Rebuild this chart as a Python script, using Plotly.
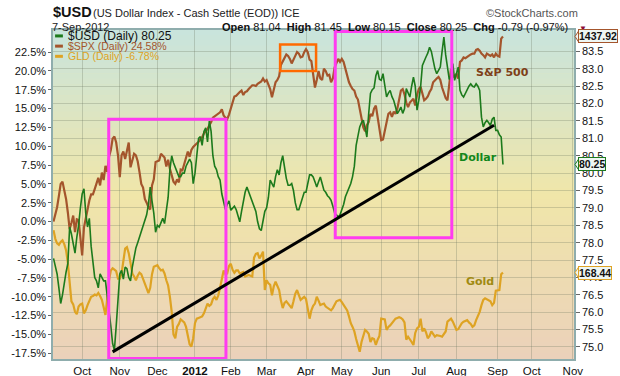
import plotly.graph_objects as go
import pandas as pd

# ---------------- data ----------------
HOLIDAYS = ["2011-11-24", "2011-12-26", "2012-01-02", "2012-01-16", "2012-02-20",
            "2012-04-06", "2012-05-28", "2012-07-04", "2012-09-03"]
trade_dates = pd.bdate_range("2011-09-09", "2012-09-07", freq="C", holidays=HOLIDAYS)

# $USD daily close (right axis, price)
usd = [
    77.55, 77.3, 77.1, 76.7, 76.25, 76.5, 76.9, 77.15, 77.4, 78.45, 78.25, 78.0, 77.7, 78.15, 78.5, 79.0,
    79.4, 79.55, 78.85, 78.45, 78.7, 77.9, 77.4, 77.0, 76.9, 76.7, 77.1, 77.0, 76.9, 76.9, 76.5, 76.0, 75.6, 75.1, 74.91, 75.6, 76.5,
    77.1, 77.2, 76.95, 77.3, 77.25, 77.0, 76.9, 77.3, 77.6, 77.85, 78.0, 78.15, 78.3, 78.45, 78.6, 78.8, 79.1, 79.6, 79.2, 78.85, 78.3,
    78.5, 78.45, 78.6, 78.7, 78.55, 78.9, 79.3, 80.1, 80.5, 80.3, 80.15, 80.0, 79.9, 79.9, 80.0, 80.0, 80.2, 80.3, 80.4, 80.3, 79.7,
    80.0, 80.6, 81.0, 81.05, 80.8, 81.2, 81.3, 80.9, 81.5, 81.2, 80.5, 80.2, 80.1, 79.9, 79.8, 79.4, 79.2, 78.95, 79.1, 79.2,
    78.93, 79.0, 79.05, 78.95, 78.8, 78.6, 78.9, 79.2, 79.45, 79.6, 79.45, 79.3, 79.2, 79.05, 78.9, 78.6, 78.4, 78.35, 78.6, 78.9,
    79.0, 79.3, 79.8, 79.7, 79.6, 79.9, 80.1, 79.95, 80.3, 80.5, 80.1, 79.85, 79.65, 79.65, 79.7, 79.5, 79.15, 78.95, 78.95, 79.1, 79.3, 79.45,
    79.45, 79.7, 79.95, 79.95, 79.89, 79.75, 79.6, 79.75, 79.89, 79.7, 79.51, 79.45, 79.35, 79.3, 79.22, 79.05, 78.85, 78.8, 78.74, 78.8,
    78.93, 79.1, 79.32, 79.45, 79.55, 79.7, 79.9, 80.2, 80.8, 81.1, 81.33, 81.45, 81.52, 81.3, 81.04, 81.7, 82.29, 82.4, 82.45, 82.8, 82.95, 82.7,
    82.67, 82.86, 82.5, 82.19, 82.3, 82.38, 82.2, 82.09, 81.9, 81.71, 81.8, 81.9, 81.72, 81.85, 82.43, 82.3, 82.19, 82.5, 82.76, 82.5, 81.81,
    82.1, 82.48, 83.1, 83.24, 83.34, 83.45, 83.62, 83.5, 83.24, 83.0, 82.86, 82.95, 83.05, 83.5, 83.91, 83.4, 83.1, 82.7, 82.8, 83.15, 82.67,
    82.85, 83.05, 82.38, 82.25, 82.19, 82.3, 82.38, 82.5, 82.57, 82.5, 82.48, 82.57, 82.5, 82.38, 81.61, 81.33, 81.45, 81.52, 81.45, 81.37, 81.55, 81.61, 81.23,
    81.23, 81.1, 81.04, 80.25,
]

# $SPX daily % change (left axis)
spx = [
    0.0, 1.0, 1.9, 3.4, 5.0, 5.3, 4.3, 3.0, 1.2, -1.0, -0.2, 0.8, -1.4, 0.3, 0.2, -2.0,
    -4.5, -0.8, 0.5, 1.8, 2.8, 3.6, 3.6, 4.3, 5.2, 5.8, 4.8, 6.5, 5.5, 7.4, 6.6, 8.6, 9.5, 11.0, 11.3, 10.5, 8.8,
    5.9, 8.8, 9.3, 8.3, 9.5, 10.5, 7.2, 8.2, 9.0, 8.8, 8.0, 6.6, 5.0, 4.5, 3.0, 2.5, 1.9, 1.6, 4.8, 5.6, 7.9,
    8.0, 8.1, 9.0, 8.8, 8.5, 7.3, 8.2, 7.0, 6.0, 5.3, 5.0, 5.6, 5.2, 6.9, 6.8, 7.6, 8.6, 9.3, 8.6, 9.5, 9.9,
    10.1, 10.3, 10.6, 10.9, 11.2, 11.7, 12.0, 12.3, 12.8, 13.2, 13.8, 14.0, 14.2, 14.3, 14.5, 14.9, 14.1, 13.8, 13.6, 14.2,
    15.0, 15.6, 16.6, 16.7, 17.0, 17.2, 17.4, 16.8, 17.2, 17.3, 17.6, 17.8, 18.1, 18.1, 18.0, 18.3, 18.5, 18.6, 19.0, 18.6,
    18.8, 18.1, 17.6, 16.5, 17.4, 18.5, 18.8, 19.3, 20.8, 21.3, 21.8, 22.2, 22.0, 21.6, 21.0, 21.6, 22.0, 22.5, 22.3, 21.8, 21.9, 22.5,
    22.9, 22.5, 21.5, 21.3, 19.8, 17.8, 18.8, 20.0, 19.0, 18.8, 20.3, 20.0, 19.4, 19.5, 18.5, 19.0, 20.5, 21.2, 21.6, 21.2,
    21.6, 21.2, 20.3, 19.2, 18.5, 18.0, 17.6, 17.4, 16.6, 16.2, 14.8, 13.5, 12.5, 12.0, 12.8, 13.2, 14.3, 14.0, 15.0, 15.4, 13.8, 12.8,
    10.8, 10.9, 12.0, 13.2, 14.3, 14.5, 13.9, 14.6, 14.3, 15.0, 16.5, 17.4, 17.6, 16.9, 15.8, 15.2, 15.8, 16.1, 16.3, 15.4, 16.8,
    17.6, 17.9, 17.0, 16.1, 16.3, 16.6, 17.2, 17.6, 18.5, 18.8, 19.0, 19.2, 18.8, 17.8, 17.0, 16.4, 16.1, 18.5, 20.3, 19.2, 19.4,
    19.6, 19.0, 21.2, 21.4, 21.8, 21.7, 21.9, 22.1, 22.2, 22.3, 22.3, 22.8, 22.9, 22.7, 22.3, 22.1, 21.8, 22.3, 22.1, 22.0, 22.2, 21.8, 22.3,
    22.0, 21.9, 24.3, 24.58,
]

# GLD daily % change (left axis)
gld = [
    -1.15, -2.3, -2.9, -3.1, -2.7, -2.5, -3.0, -3.8, -5.5, -7.8, -10.6, -11.0, -12.0, -12.3, -11.3, -11.0,
    -10.9, -12.2, -11.8, -11.1, -10.5, -10.0, -9.9, -9.7, -9.8, -9.5, -9.9, -10.4, -11.4, -12.4, -10.2, -7.8, -6.5, -6.2, -6.4, -6.6, -7.6,
    -7.6, -6.9, -5.5, -3.6, -3.4, -4.2, -5.5, -6.9, -7.3, -7.8, -7.2, -6.8, -7.0, -7.6, -8.2, -8.9, -9.5, -8.8, -7.0, -6.0, -5.9,
    -5.8, -6.2, -6.5, -6.4, -6.9, -7.8, -8.5, -10.0, -12.0, -15.0, -15.5, -14.0, -13.6, -13.0, -13.2, -13.4, -14.0, -15.0, -16.3, -16.6, -15.5,
    -13.5, -12.9, -12.8, -12.7, -12.6, -12.2, -11.5, -10.9, -11.2, -11.0, -10.3, -10.0, -10.4, -9.8, -8.8, -7.5, -6.5, -7.0, -6.9, -5.9,
    -5.6, -6.4, -6.8, -6.5, -6.5, -6.9, -6.8, -6.7, -7.3, -7.2, -7.1, -7.2, -7.3, -4.8, -4.3, -4.2, -4.9, -4.5, -4.0, -9.1,
    -7.8, -8.2, -8.4, -9.8, -8.6, -8.0, -8.6, -9.1, -10.5, -11.5, -10.8, -10.6, -10.9, -11.2, -11.5, -10.6, -9.6, -9.1, -9.9, -10.4, -10.2, -10.0,
    -10.3, -11.6, -12.9, -11.8, -11.2, -10.9, -10.0, -10.5, -11.1, -11.0, -10.9, -11.3, -11.5, -11.6, -11.8, -11.5, -11.0, -10.6, -10.5, -10.4,
    -10.7, -11.1, -11.5, -11.8, -12.6, -13.5, -14.0, -14.6, -15.6, -16.4, -17.3, -16.0, -15.3, -14.4, -14.6, -14.9, -16.0, -15.5, -15.6, -16.4, -15.7, -15.2,
    -12.9, -12.9, -13.0, -14.4, -14.0, -13.8, -13.5, -13.1, -12.9, -12.8, -12.7, -12.8, -13.0, -13.4, -15.7, -15.3, -15.6, -16.0, -16.4, -14.8, -14.2,
    -14.0, -12.9, -14.6, -14.2, -14.7, -15.5, -15.2, -14.6, -14.9, -15.3, -15.1, -15.1, -15.2, -15.3, -15.0, -14.6, -13.3, -13.1, -12.9, -13.3, -13.8,
    -14.4, -14.3, -13.8, -13.5, -13.3, -13.2, -13.1, -13.4, -13.6, -14.0, -13.8, -13.1, -12.6, -12.0, -11.1, -10.4, -10.2, -10.3, -10.4, -10.6, -11.1, -10.8, -9.2,
    -9.1, -9.1, -7.0, -6.78,
]

assert len(trade_dates) == len(usd) == len(spx) == len(gld), (len(trade_dates), len(usd), len(spx), len(gld))

month_ticks = ["2011-10-03", "2011-11-01", "2011-12-01", "2012-01-03", "2012-02-01", "2012-03-01",
               "2012-04-02", "2012-05-01", "2012-06-01", "2012-07-02", "2012-08-01", "2012-09-04",
               "2012-10-01", "2012-11-01"]
month_labels = ["Oct", "Nov", "Dec", "<b>2012</b>", "Feb", "Mar", "Apr", "May", "Jun", "Jul",
                "Aug", "Sep", "Oct", "Nov"]
pct_ticks = [22.5, 20.0, 17.5, 15.0, 12.5, 10.0, 7.5, 5.0, 2.5, 0.0, -2.5, -5.0, -7.5, -10.0,
             -12.5, -15.0, -17.5]
pct_labels = ["22.5%", "20.0%", "17.5%", "15.0%", "12.5%", "10.0%", "7.5%", "5.0%", "2.5%", "0.0%",
              "-2.5%", "-5.0%", "-7.5%", "-10.0%", "-12.5%", "-15.0%", "-17.5%"]
usd_ticks = [75.0, 75.5, 76.0, 76.5, 77.0, 77.5, 78.0, 78.5, 79.0, 79.5, 80.0, 80.5, 81.0, 81.5,
             82.0, 82.5, 83.0, 83.5]
usd_labels = ["75.0", "75.5", "76.0", "76.5", "77.0", "77.5", "78.0", "78.5", "79.0", "79.5",
              "80.0", "80.5", "81.0", "81.5", "82.0", "82.5", "83.0", "83.5"]

# last values shown in the price tags on the right
tag_spx, tag_usd, tag_gld = "1437.92", "80.25", "168.44"

# ---------------- style ----------------
C_USD = "#1c7a1c"
C_SPX = "#a4552c"
C_GLD = "#dea323"
MAGENTA = "#ff3cf0"
ORANGE = "#ff6a00"
AXIS = "#8fadad"
GRID = "rgba(105,115,95,0.28)"
TAGBG = "#eef6f3"
SANS = "Liberation Sans, Arial, sans-serif"
DEJA = "DejaVu Sans, Verdana, sans-serif"

fig = go.Figure()
fig.add_trace(go.Scatter(x=trade_dates, y=gld, mode="lines", line=dict(color=C_GLD, width=2.2),
                         yaxis="y", hoverinfo="skip"))
fig.add_trace(go.Scatter(x=trade_dates, y=spx, mode="lines", line=dict(color=C_SPX, width=2.2),
                         yaxis="y", hoverinfo="skip"))
fig.add_trace(go.Scatter(x=trade_dates, y=usd, mode="lines", line=dict(color=C_USD, width=1.6),
                         yaxis="y2", hoverinfo="skip"))

# background gradient (teal -> yellow -> peach)
def hex2rgb(h):
    h = h.lstrip("#")
    return tuple(int(h[i:i + 2], 16) for i in (0, 2, 4))

stops = [(0.0, hex2rgb("#c8e4dd")), (0.5, hex2rgb("#f0e6a9")), (1.0, hex2rgb("#ebd1ba"))]
shapes = []
N = 60
for i in range(N):
    t = (i + 0.5) / N  # fraction from top
    for (a, ca), (b, cb) in zip(stops[:-1], stops[1:]):
        if a <= t <= b:
            f = (t - a) / (b - a)
            c = tuple(round(ca[k] + (cb[k] - ca[k]) * f) for k in range(3))
            break
    shapes.append(dict(type="rect", xref="paper", yref="paper", x0=0, x1=1,
                       y0=1 - (i + 1) / N, y1=1 - i / N + 0.002, layer="below",
                       fillcolor="rgb(%d,%d,%d)" % c, line=dict(width=0)))

# annotation boxes and trend line
shapes += [
    dict(type="rect", xref="x", yref="y", x0="2011-10-21 20:00", x1="2012-01-27 07:00",
         y0=-18.2, y1=13.57, line=dict(color=MAGENTA, width=3)),
    dict(type="rect", xref="x", yref="y", x0="2012-04-25 08:00", x1="2012-07-27 10:00",
         y0=-2.15, y1=25.24, line=dict(color=MAGENTA, width=3)),
    dict(type="rect", xref="x", yref="y", x0="2012-03-12 13:00", x1="2012-04-10 15:00",
         y0=20.0, y1=23.51, line=dict(color=ORANGE, width=2.5)),
    dict(type="line", xref="x", yref="y2", x0="2011-10-26", y0=74.86, x1="2012-08-30", y1=81.375,
         line=dict(color="black", width=3)),
]

# legend dashes
for yy, col in [(0.982, C_USD), (0.951, C_SPX), (0.920, C_GLD)]:
    shapes.append(dict(type="line", xref="paper", yref="paper", x0=0.004, x1=0.019, y0=yy, y1=yy,
                       line=dict(color=col, width=3)))

# pointer triangles of the price tags (tip on the right axis)
for yref, yv, half, col in [("y", 24.58, 0.8, C_SPX), ("y2", 80.25, 0.17, C_USD),
                            ("y", -6.78, 0.8, C_GLD)]:
    shapes.append(dict(type="path", xref="paper", yref=yref,
                       path="M 1.002 %s L 1.0095 %s L 1.0095 %s Z" % (yv, yv + half, yv - half),
                       fillcolor=TAGBG, line=dict(color=col, width=1)))

annotations = [
    # header
    dict(xref="paper", yref="paper", x=-0.003, y=1.055, xanchor="left", yanchor="middle",
         text="<b>$USD</b>", showarrow=False, font=dict(family=SANS, size=14.5, color="#111")),
    dict(xref="paper", yref="paper", x=0.072, y=1.052, xanchor="left", yanchor="middle",
         text="(US Dollar Index - Cash Settle (EOD)) ICE", showarrow=False,
         font=dict(family=SANS, size=11, color="#222")),
    dict(xref="paper", yref="paper", x=-0.005, y=1.008, xanchor="left", yanchor="middle",
         text="7-Sep-2012", showarrow=False, font=dict(family=SANS, size=11, color="#222")),
    dict(xref="paper", yref="paper", x=0.993, y=1.008, xanchor="right", yanchor="middle",
         text="<b>Open</b> 81.04  <b>High</b> 81.45  <b>Low</b> 80.15  <b>Close</b> 80.25  <b>Chg</b> -0.79 (-0.97%)",
         showarrow=False, font=dict(family=SANS, size=11, color="#111")),
    dict(xref="paper", yref="paper", x=1.005, y=1.006, xanchor="left", yanchor="middle",
         text="▼", showarrow=False, font=dict(family=SANS, size=8, color="#8b0a3a")),
    dict(xref="paper", yref="paper", x=1.011, y=1.053, xanchor="right", yanchor="middle",
         text="©StockCharts.com", showarrow=False, font=dict(family=SANS, size=11, color="#555")),
    # legend text
    dict(xref="paper", yref="paper", x=0.025, y=0.982, xanchor="left", yanchor="middle",
         text="$USD (Daily) 80.25", showarrow=False, font=dict(family=SANS, size=12, color="#111")),
    dict(xref="paper", yref="paper", x=0.025, y=0.951, xanchor="left", yanchor="middle",
         text="$SPX (Daily) 24.58%", showarrow=False, font=dict(family=SANS, size=10.5, color=C_SPX)),
    dict(xref="paper", yref="paper", x=0.025, y=0.920, xanchor="left", yanchor="middle",
         text="GLD (Daily) -6.78%", showarrow=False, font=dict(family=SANS, size=10.5, color=C_GLD)),
    # series labels
    dict(xref="x", yref="y", x="2012-09-06 14:00", y=19.76, text="<b>S&P 500</b>", showarrow=False,
         font=dict(family=DEJA, size=11, color="#7e3f18")),
    dict(xref="x", yref="y2", x="2012-08-17", y=80.45, text="<b>Dollar</b>", showarrow=False,
         font=dict(family=DEJA, size=11, color="#12861a")),
    dict(xref="x", yref="y", x="2012-08-20", y=-7.92, text="<b>Gold</b>", showarrow=False,
         font=dict(family=DEJA, size=11, color="#a08a12")),
    # price tags
    dict(xref="paper", yref="y", x=1.008, y=24.58, xanchor="left", yanchor="middle",
         text="<b>%s</b>" % tag_spx, showarrow=False, bgcolor=TAGBG, bordercolor=C_SPX,
         borderwidth=1, borderpad=0, font=dict(family=SANS, size=10.5, color="#111")),
    dict(xref="paper", yref="y2", x=1.008, y=80.25, xanchor="left", yanchor="middle",
         text="<b>%s</b>" % tag_usd, showarrow=False, bgcolor=TAGBG, bordercolor=C_USD,
         borderwidth=1, borderpad=0, font=dict(family=SANS, size=10.5, color="#111")),
    dict(xref="paper", yref="y", x=1.008, y=-6.78, xanchor="left", yanchor="middle",
         text="<b>%s</b>" % tag_gld, showarrow=False, bgcolor=TAGBG, bordercolor=C_GLD,
         borderwidth=1, borderpad=0, font=dict(family=SANS, size=10.5, color="#111")),
]

fig.update_layout(
    width=620, height=376,
    margin=dict(l=53, r=46, t=30, b=17, autoexpand=False),
    paper_bgcolor="white", plot_bgcolor="#efe6aa",
    showlegend=False,
    shapes=shapes, annotations=annotations,
    xaxis=dict(type="date", range=["2011-09-08 17:00", "2012-11-01 16:00"], automargin=False,
               rangebreaks=[dict(bounds=["sat", "mon"]), dict(values=HOLIDAYS)],
               tickmode="array", tickvals=month_ticks, ticktext=month_labels,
               showgrid=True, gridcolor=GRID, gridwidth=1, zeroline=False,
               showline=True, linecolor=AXIS, linewidth=1.5, mirror=True, ticks="",
               tickfont=dict(family=SANS, size=11.5, color="#111")),
    yaxis=dict(range=[-18.26, 25.44], tickmode="array", tickvals=pct_ticks, ticktext=pct_labels,
               automargin=False, showgrid=False, zeroline=False, showline=True, linecolor=AXIS,
               linewidth=1.5, ticks="outside", ticklen=3, tickcolor="#666",
               tickfont=dict(family=SANS, size=11, color="#111")),
    yaxis2=dict(overlaying="y", side="right", range=[74.654, 84.117], tickmode="array",
                tickvals=usd_ticks, ticktext=usd_labels, showgrid=True, gridcolor=GRID,
                automargin=False, zeroline=False, showline=True, linecolor=AXIS, linewidth=1.5,
                ticks="outside", ticklen=4, tickcolor="#666",
                tickfont=dict(family=SANS, size=11, color="#111")),
)

# remove the page's default 8px body margin so the 620x376 figure fills the window
fig.write_html("out.html", config={"displayModeBar": False},
               post_script="document.body.style.margin='0';document.body.style.overflow='hidden';")
